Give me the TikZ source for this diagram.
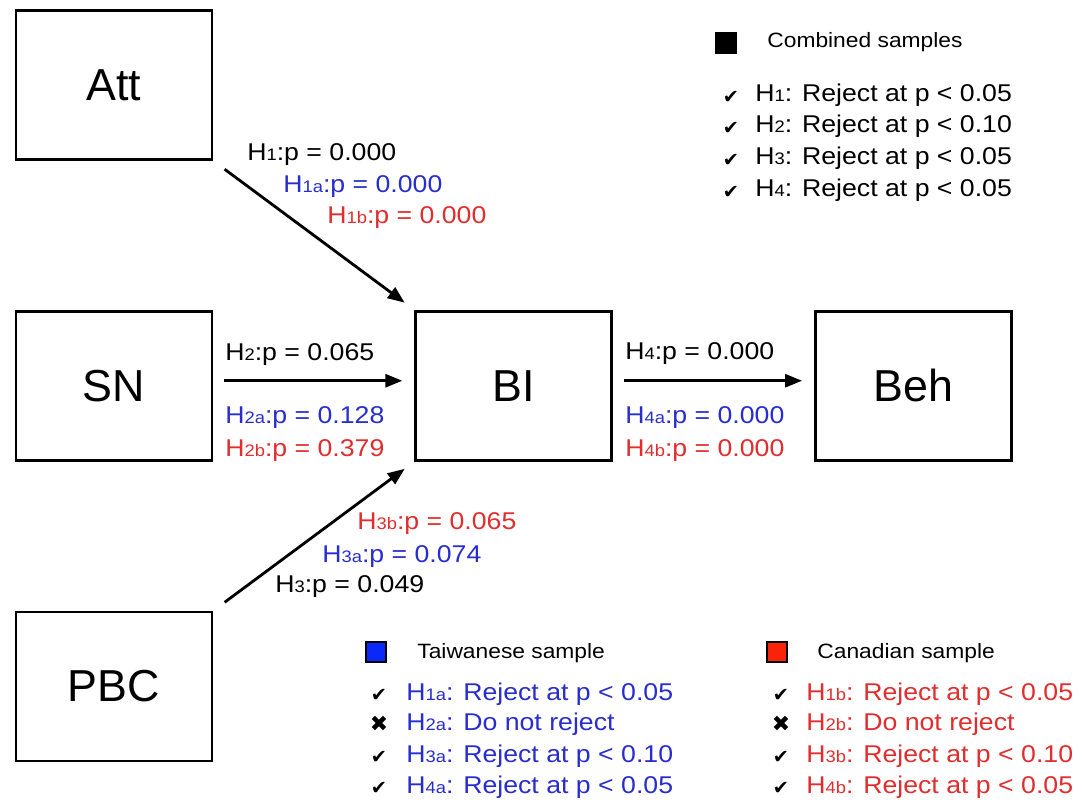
\documentclass[tikz,border=0pt]{standalone}
\usepackage{fontspec}
\setmainfont{Liberation Sans}
\newfontfamily\lblfont{Liberation Sans}[FakeStretch=1.1]
\newfontfamily\symfont{DejaVu Sans}
\usetikzlibrary{arrows.meta, positioning}

\definecolor{tw}{RGB}{40,45,205}
\definecolor{ca}{RGB}{225,45,45}
\definecolor{twkey}{RGB}{10,40,250}
\definecolor{cakey}{RGB}{250,35,10}

\newcommand{\hsub}[1]{{\fontsize{9.5}{10}\selectfont #1}}
\newcommand{\yesmark}{{\symfont\fontsize{11}{11}\selectfont ✔}}
\newcommand{\nomark}{{\symfont\fontsize{12.5}{12.5}\selectfont ✖}}

\begin{document}
\begin{tikzpicture}[
    x=0.02cm, y=-0.02cm,
    box/.style={rectangle, draw, line width=1.6pt, minimum width=3.92cm, minimum height=2.98cm, font=\fontsize{25.5}{30}\selectfont},
    link/.style={-{Triangle[length=0.34cm,width=0.26cm]}, line width=1.6pt},
    lbl/.style={anchor=base west, inner sep=0pt, font=\lblfont\fontsize{13.8}{16}\selectfont},
    keytitle/.style={anchor=base west, inner sep=0pt, font=\lblfont\fontsize{11.8}{14}\selectfont},
    keysq/.style={rectangle, draw=black, line width=0.6pt, minimum size=0.4cm, inner sep=0pt},
    chk/.style={inner sep=0pt}
]
    \useasboundingbox (0,0) rectangle (1082,803);

    \node[box] (att) at (114,85) {Att};
    \node[box, below=2.98cm of att] (sn) {SN};
    \node[box, below=2.98cm of sn] (pbc) {PBC};
    \node[box, right=4.02cm of sn] (bi) {BI};
    \node[box, right=4.02cm of bi] (beh) {Beh};

    \draw[link, shorten <=0.28cm, shorten >=0.24cm] (att.south east) -- (bi.north west);
    \draw[link, shorten <=0.22cm, shorten >=0.24cm] ([yshift=0.1cm]sn.east) -- ([yshift=0.1cm]bi.west);
    \draw[link, shorten <=0.28cm, shorten >=0.24cm] (pbc.north east) -- (bi.south west);
    \draw[link, shorten <=0.22cm, shorten >=0.24cm] ([yshift=0.1cm]bi.east) -- ([yshift=0.1cm]beh.west);

    \node[lbl] (h1) at (247,161) {H\hsub{1}:p = 0.000};
    \node[lbl, tw] (h1a) at (283,193) {H\hsub{1a}:p = 0.000};
    \node[lbl, ca] (h1b) at (327,224) {H\hsub{1b}:p = 0.000};

    \node[lbl] (h2) at (225,361) {H\hsub{2}:p = 0.065};
    \node[lbl, tw] (h2a) at (225,424) {H\hsub{2a}:p = 0.128};
    \node[lbl, ca] (h2b) at (225,457) {H\hsub{2b}:p = 0.379};

    \node[lbl, ca] (h3b) at (357,530) {H\hsub{3b}:p = 0.065};
    \node[lbl, tw] (h3a) at (322,562) {H\hsub{3a}:p = 0.074};
    \node[lbl] (h3) at (275,593) {H\hsub{3}:p = 0.049};

    \node[lbl] (h4) at (625,360) {H\hsub{4}:p = 0.000};
    \node[lbl, tw] (h4a) at (625,424) {H\hsub{4a}:p = 0.000};
    \node[lbl, ca] (h4b) at (625,457) {H\hsub{4b}:p = 0.000};

    \node[keysq, fill=black] (allkey) at (726,43) {};
    \node[keytitle] (alltitle) at (767,48) {Combined samples};
    \node[chk] (allc1) at (731,97) {\yesmark};
    \node[chk] (allc2) at (731,128) {\yesmark};
    \node[chk] (allc3) at (731,160) {\yesmark};
    \node[chk] (allc4) at (731,192) {\yesmark};
    \node[lbl] (all1) at (755,102) {H\hsub{1}: Reject at p < 0.05};
    \node[lbl] (all2) at (755,133) {H\hsub{2}: Reject at p < 0.10};
    \node[lbl] (all3) at (755,165) {H\hsub{3}: Reject at p < 0.05};
    \node[lbl] (all4) at (755,197) {H\hsub{4}: Reject at p < 0.05};

    \node[keysq, fill=twkey] (twk) at (376,652) {};
    \node[keytitle] (twtitle) at (417,658) {Taiwanese sample};
    \node[chk] (twc1) at (379,695) {\yesmark};
    \node[chk] (twc2) at (379,724) {\nomark};
    \node[chk] (twc3) at (379,757) {\yesmark};
    \node[chk] (twc4) at (379,788) {\yesmark};
    \node[lbl, tw] (tw1) at (406,700) {H\hsub{1a}: Reject at p < 0.05};
    \node[lbl, tw] (tw2) at (406,730) {H\hsub{2a}: Do not reject};
    \node[lbl, tw] (tw3) at (406,762) {H\hsub{3a}: Reject at p < 0.10};
    \node[lbl, tw] (tw4) at (406,793) {H\hsub{4a}: Reject at p < 0.05};

    \node[keysq, fill=cakey] (cak) at (777,652) {};
    \node[keytitle] (catitle) at (817,658) {Canadian sample};
    \node[chk] (cac1) at (781,695) {\yesmark};
    \node[chk] (cac2) at (781,724) {\nomark};
    \node[chk] (cac3) at (781,757) {\yesmark};
    \node[chk] (cac4) at (781,788) {\yesmark};
    \node[lbl, ca] (ca1) at (806,700) {H\hsub{1b}: Reject at p < 0.05};
    \node[lbl, ca] (ca2) at (806,730) {H\hsub{2b}: Do not reject};
    \node[lbl, ca] (ca3) at (806,762) {H\hsub{3b}: Reject at p < 0.10};
    \node[lbl, ca] (ca4) at (806,793) {H\hsub{4b}: Reject at p < 0.05};
\end{tikzpicture}
\end{document}
